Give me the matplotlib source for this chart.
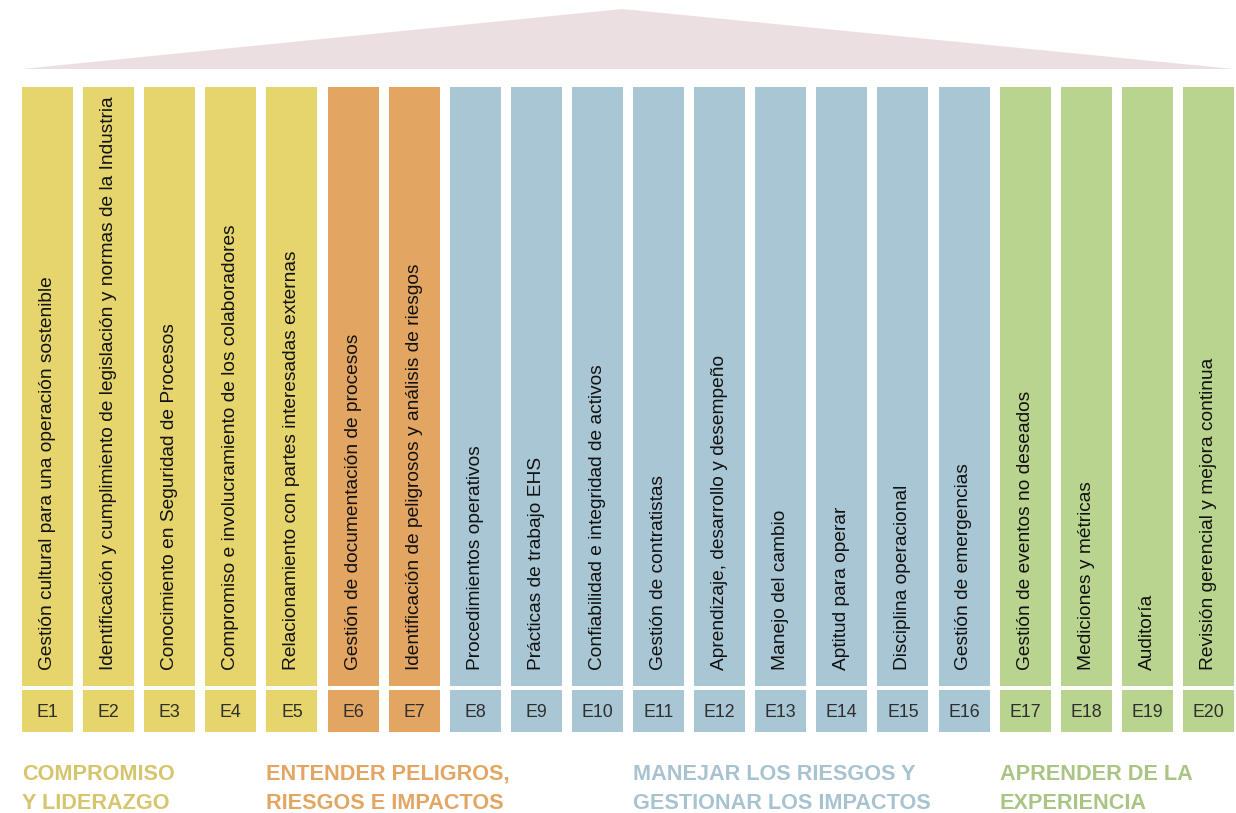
import matplotlib
matplotlib.use("Agg")
import matplotlib.pyplot as plt
from matplotlib.patches import Rectangle, Polygon

# Datos
codigos = ["E%d" % i for i in range(1, 21)]
elementos = [
    "Gestión cultural para una operación sostenible",
    "Identificación y cumplimiento de legislación y normas de la Industria",
    "Conocimiento en Seguridad de Procesos",
    "Compromiso e involucramiento de los colaboradores",
    "Relacionamiento con partes interesadas externas",
    "Gestión de documentación de procesos",
    "Identificación de peligrosos y análisis de riesgos",
    "Procedimientos operativos",
    "Prácticas de trabajo EHS",
    "Confiabilidad e integridad de activos",
    "Gestión de contratistas",
    "Aprendizaje, desarrollo y desempeño",
    "Manejo del cambio",
    "Aptitud para operar",
    "Disciplina operacional",
    "Gestión de emergencias",
    "Gestión de eventos no deseados",
    "Mediciones y métricas",
    "Auditoría",
    "Revisión gerencial y mejora continua",
]
grupo_de_elemento = [0]*5 + [1]*2 + [2]*9 + [3]*4
grupos = [
    ["COMPROMISO", "Y LIDERAZGO"],
    ["ENTENDER PELIGROS,", "RIESGOS E IMPACTOS"],
    ["MANEJAR LOS RIESGOS Y", "GESTIONAR LOS IMPACTOS"],
    ["APRENDER DE LA", "EXPERIENCIA"],
]
grupo_inicio = [0, 4, 10, 16]  # pilar donde empieza la etiqueta del grupo

# Colores
col_pilar = ["#e5d56c", "#e3a662", "#a9c6d4", "#b9d48e"]
col_texto = ["#d5c56c", "#e3a662", "#a8c3d0", "#a9c483"]
col_techo = "#ecdfe2"

# Geometria (pixeles)
W, H = 1236, 813
x0, paso, ancho = 22, 61.1, 51
y_pilar0, y_pilar1 = 87, 686
y_base0, y_base1 = 690, 732

fig = plt.figure(figsize=(W/100, H/100), dpi=100)
ax = fig.add_axes([0, 0, 1, 1])
ax.set_xlim(0, W)
ax.set_ylim(H, 0)
ax.axis("off")

# Techo
x_fin = x0 + paso*19 + ancho
ax.add_patch(Polygon([(x0, 69), (622, 9), (x_fin, 69)], closed=True,
                     facecolor=col_techo, edgecolor="none"))

# Pilares
for i in range(len(codigos)):
    x = x0 + i*paso
    c = col_pilar[grupo_de_elemento[i]]
    ax.add_patch(Rectangle((x, y_pilar0), ancho, y_pilar1 - y_pilar0,
                           facecolor=c, edgecolor="none"))
    ax.add_patch(Rectangle((x, y_base0), ancho, y_base1 - y_base0,
                           facecolor=c, edgecolor="none"))
    ax.text(x + ancho/2, y_pilar1 - 16, elementos[i], rotation=90,
            ha="center", va="bottom", fontsize=13.8, color="#111111",
            family=["Liberation Sans Narrow", "Liberation Sans"])
    ax.text(x + ancho/2, (y_base0 + y_base1)/2 + 1, codigos[i],
            ha="center", va="center", fontsize=12.8, color="#2e2e2e",
            family=["Liberation Sans"])

# Etiquetas de grupo
for g, lineas in enumerate(grupos):
    x = x0 + grupo_inicio[g]*paso
    for k, linea in enumerate(lineas):
        ax.text(x, 774 + 29*k, linea, ha="left", va="center", fontsize=15.6,
                fontweight="bold", color=col_texto[g],
                family=["Liberation Sans"])

fig.savefig("out.png", dpi=100)
